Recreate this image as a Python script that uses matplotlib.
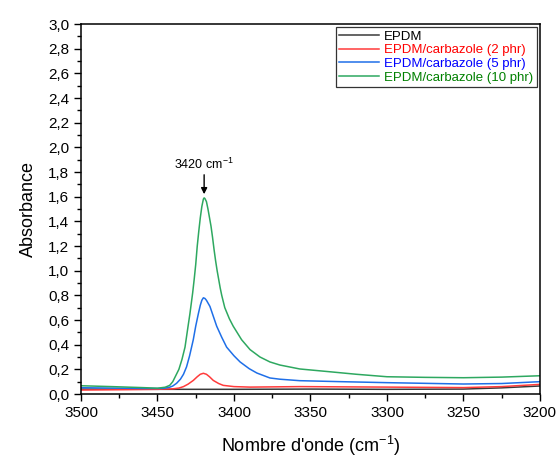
import matplotlib.pyplot as plt
from matplotlib.ticker import MultipleLocator, FuncFormatter

plt.rcParams['font.family'] = ['Liberation Sans', 'DejaVu Sans']
plt.rcParams['mathtext.fontset'] = 'custom'
plt.rcParams['mathtext.rm'] = 'Liberation Sans'
plt.rcParams['mathtext.default'] = 'regular'

# values (wavenumber in cm-1, absorbance)
wn_epdm = [3500, 3450, 3400, 3350, 3300, 3250, 3225, 3200]
abs_epdm = [0.040, 0.038, 0.038, 0.040, 0.038, 0.040, 0.050, 0.065]

wn_2phr = [3500, 3470, 3450, 3440, 3436, 3433, 3430, 3426.6, 3424, 3422, 3420,
           3418, 3416, 3413.5, 3410, 3407, 3400, 3389.5, 3357, 3300, 3250, 3225, 3200]
abs_2phr = [0.032, 0.035, 0.038, 0.042, 0.048, 0.060, 0.080, 0.110, 0.140, 0.160, 0.168,
            0.160, 0.140, 0.110, 0.085, 0.070, 0.060, 0.056, 0.060, 0.056, 0.052, 0.060, 0.078]

wn_5phr = [3500, 3480, 3460, 3450, 3446, 3442, 3440, 3437.5, 3435, 3433, 3431, 3429,
           3426.6, 3425, 3423.3, 3422, 3421, 3420, 3419, 3418, 3415.7, 3413.5, 3411.3,
           3408, 3404.8, 3400, 3396, 3390, 3385, 3376.5, 3370, 3357, 3330, 3300, 3250,
           3225, 3200]
abs_5phr = [0.051, 0.048, 0.045, 0.045, 0.046, 0.055, 0.065, 0.087, 0.120, 0.160, 0.220, 0.310,
            0.440, 0.550, 0.650, 0.720, 0.760, 0.780, 0.775, 0.760, 0.710, 0.630, 0.550,
            0.460, 0.380, 0.310, 0.260, 0.205, 0.170, 0.130, 0.120, 0.108, 0.100, 0.092, 0.081,
            0.085, 0.100]

wn_10phr = [3500, 3480, 3460, 3450, 3445, 3442, 3440, 3438, 3436, 3434, 3432, 3430,
            3428.8, 3427, 3426, 3425, 3424, 3423, 3422, 3421, 3420, 3419.5, 3419, 3418,
            3417, 3416, 3415, 3414, 3413, 3412, 3411, 3410, 3409, 3408, 3406, 3403, 3400.5,
            3395, 3389.5, 3383, 3376.5, 3370, 3357, 3337, 3320, 3300, 3275, 3250, 3225, 3200]
abs_10phr = [0.067, 0.060, 0.052, 0.047, 0.055, 0.070, 0.100, 0.150, 0.200, 0.280, 0.380, 0.550,
             0.650, 0.820, 0.930, 1.050, 1.200, 1.320, 1.430, 1.520, 1.580, 1.590, 1.585, 1.560,
             1.500, 1.430, 1.360, 1.270, 1.170, 1.080, 1.000, 0.930, 0.860, 0.800, 0.700, 0.610,
             0.550, 0.440, 0.360, 0.300, 0.260, 0.235, 0.203, 0.180, 0.160, 0.140, 0.135, 0.132,
             0.137, 0.148]

labels = ["EPDM", "EPDM/carbazole (2 phr)", "EPDM/carbazole (5 phr)", "EPDM/carbazole (10 phr)"]
line_colors = ["#3a3a3a", "#ff3b3b", "#1f6fe8", "#2ea860"]
text_colors = ["black", "#ff0000", "#0000ff", "#008000"]

fig = plt.figure(figsize=(5.6, 4.59), dpi=100)
ax = fig.add_axes([0.1446, 0.1416, 0.8196, 0.8061])

series = [(wn_epdm, abs_epdm), (wn_2phr, abs_2phr), (wn_5phr, abs_5phr), (wn_10phr, abs_10phr)]
for (x, y), lab, col in zip(series, labels, line_colors):
    ax.plot(x, y, color=col, linewidth=1.1, label=lab)

ax.set_xlim(3500, 3200)
ax.set_ylim(0, 3.0)
ax.xaxis.set_major_locator(MultipleLocator(50))
ax.xaxis.set_minor_locator(MultipleLocator(25))
ax.yaxis.set_major_locator(MultipleLocator(0.2))
ax.yaxis.set_minor_locator(MultipleLocator(0.1))
ax.yaxis.set_major_formatter(FuncFormatter(lambda v, p: f"{v:.1f}".replace('.', ',')))
ax.tick_params(which='both', direction='out', top=False, right=False, labelsize=11, width=1)
ax.tick_params(which='major', length=5)
ax.tick_params(which='minor', length=3)
for s in ax.spines.values():
    s.set_linewidth(1.1)

ax.set_xlabel("Nombre d'onde (cm$^{-1}$)", fontsize=13, labelpad=10)
ax.set_ylabel("Absorbance", fontsize=13, labelpad=8)

ax.annotate("3420 cm$^{-1}$", xy=(3419.5, 1.62), xytext=(3419.5, 1.80),
            ha='center', va='bottom', fontsize=9,
            arrowprops=dict(arrowstyle='-|>', color='black', lw=1, mutation_scale=9,
                            shrinkA=0, shrinkB=0))

leg = ax.legend(loc='upper right', fontsize=9.5, frameon=True, fancybox=False,
                edgecolor='black', handlelength=3, borderpad=0.25, labelspacing=0.1,
                handletextpad=0.4, borderaxespad=0.25)
leg.get_frame().set_linewidth(0.9)
for t, c in zip(leg.get_texts(), text_colors):
    t.set_color(c)

fig.savefig("out.png", dpi=100)
